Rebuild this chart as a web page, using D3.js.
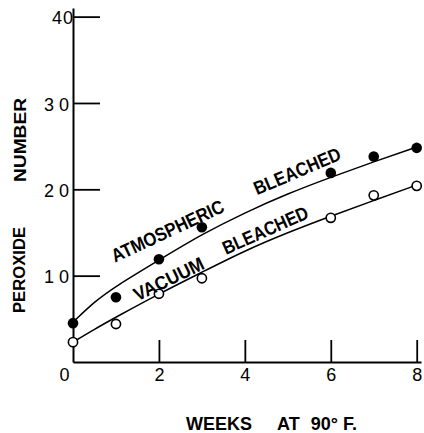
<!DOCTYPE html>
<html>
<head>
<meta charset="utf-8">
<script src="https://cdn.jsdelivr.net/npm/d3@7"></script>
<style>
  body { margin: 0; background: #fff; }
  text { font-family: "Liberation Sans", Arial, sans-serif; fill: #000; }
</style>
</head>
<body>
<svg id="chart" width="424" height="433"></svg>
<script>
// measured points (weeks at 90 F, peroxide number)
const weeks = [0, 1, 2, 3, 6, 7, 8];
const atmospheric = [4.5, 7.5, 11.9, 15.6, 21.9, 23.8, 24.8];
const vacuum = [2.3, 4.4, 7.9, 9.7, 16.7, 19.3, 20.4];

// hand drawn fit curves
const curveWeeks = [0, 0.5, 1, 2, 3, 4, 5, 6, 7, 8];
const atmosphericCurve = [4.6, 7.0, 8.8, 11.8, 14.8, 17.3, 19.5, 21.4, 23.2, 24.9];
const vacuumCurve = [2.3, 3.8, 5.2, 7.9, 10.4, 12.9, 15.0, 16.9, 18.7, 20.5];

const xTicks = [0, 2, 4, 6, 8];
const yTicks = [10, 20, 30, 40];

// labels along the curves: [text, week, value, angle, length]
const curveLabels = [
    ["ATMOSPHERIC", 0.98, 11.5, -25, 122],
    ["BLEACHED", 4.28, 19.3, -23, 93],
    ["VACUUM", 1.5, 7.0, -26, 76],
    ["BLEACHED", 3.56, 12.4, -24, 92]
];

const svg = d3.select("#chart");

// axis lines run a little past the last ticks
const x = d3.scaleLinear().domain([0, 8.1]).range([73, 421]);
const y = d3.scaleLinear().domain([0, 41]).range([362, 8]);

const xAxis = svg.append("g")
    .attr("transform", `translate(0,${y(0)})`)
    .call(d3.axisBottom(x).tickValues(xTicks).tickSizeInner(-22).tickSizeOuter(0).tickPadding(6));

const yAxis = svg.append("g")
    .attr("transform", `translate(${x(0)},0)`)
    .call(d3.axisLeft(y).tickValues(yTicks).tickSizeInner(-27).tickSizeOuter(0).tickPadding(-1));

[xAxis, yAxis].forEach(g => {
    g.select(".domain").attr("stroke", "#000").attr("stroke-width", 2);
    g.selectAll(".tick line").attr("stroke", "#000").attr("stroke-width", 1.8);
    g.selectAll(".tick text")
        .style("font-family", '"Liberation Sans", Arial, sans-serif')
        .style("font-size", "18px")
        .attr("fill", "#000");
});
xAxis.selectAll(".tick").filter(d => d === 0).select("line").remove();
xAxis.selectAll(".tick").filter(d => d === 0).select("text").attr("x", -9);
yAxis.selectAll(".tick text")
    .style("letter-spacing", d => d === 40 ? "1px" : "5px")
    .attr("dy", "0.4em");

// curves
const line = d3.line()
    .x(d => x(d[0]))
    .y(d => y(d[1]))
    .curve(d3.curveBasis);

[atmosphericCurve, vacuumCurve].forEach(vals => {
    svg.append("path")
        .datum(curveWeeks.map((w, i) => [w, vals[i]]))
        .attr("d", line)
        .attr("fill", "none")
        .attr("stroke", "#000")
        .attr("stroke-width", 1.5);
});

// points
svg.append("g").selectAll("circle")
    .data(weeks.map((w, i) => [w, atmospheric[i]]))
    .join("circle")
    .attr("cx", d => x(d[0]))
    .attr("cy", d => y(d[1]))
    .attr("r", 5.3)
    .attr("fill", "#000");

svg.append("g").selectAll("circle")
    .data(weeks.map((w, i) => [w, vacuum[i]]))
    .join("circle")
    .attr("cx", d => x(d[0]))
    .attr("cy", d => y(d[1]))
    .attr("r", 4.6)
    .attr("fill", "#fff")
    .attr("stroke", "#000")
    .attr("stroke-width", 1.6);

// curve labels
svg.append("g").selectAll("text")
    .data(curveLabels)
    .join("text")
    .attr("transform", d => `translate(${x(d[1])},${y(d[2])}) rotate(${d[3]})`)
    .attr("textLength", d => d[4])
    .attr("lengthAdjust", "spacingAndGlyphs")
    .style("font-size", "19px")
    .style("font-weight", "bold")
    .text(d => d[0]);

// axis titles
svg.append("text")
    .attr("transform", "translate(25,270) rotate(-90)")
    .attr("text-anchor", "middle")
    .attr("textLength", 86)
    .attr("lengthAdjust", "spacingAndGlyphs")
    .style("font-size", "17px")
    .style("font-weight", "bold")
    .text("PEROXIDE");

svg.append("text")
    .attr("transform", "translate(26,140) rotate(-90)")
    .attr("text-anchor", "middle")
    .attr("textLength", 84)
    .attr("lengthAdjust", "spacingAndGlyphs")
    .style("font-size", "17px")
    .style("font-weight", "bold")
    .text("NUMBER");

const xTitle = svg.append("text")
    .attr("x", 186)
    .attr("y", 430)
    .style("font-size", "18px")
    .style("font-weight", "bold");
xTitle.append("tspan").text("WEEKS");
xTitle.append("tspan").attr("dx", 25).text("AT");
xTitle.append("tspan").attr("dx", 11).text("90°");
xTitle.append("tspan").attr("dx", 5).text("F.");
</script>
</body>
</html>
